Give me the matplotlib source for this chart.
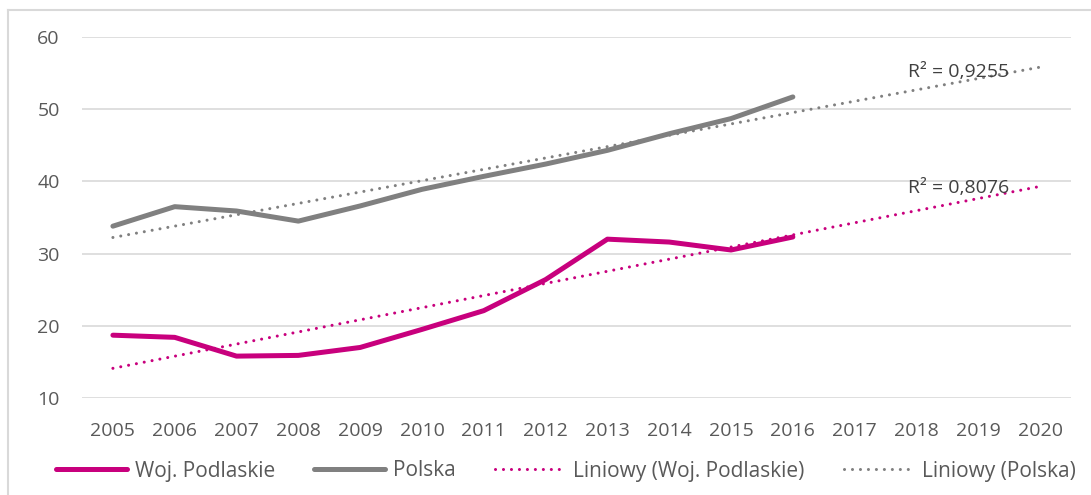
"""
Woj. Podlaskie vs Polska, 2005-2016 with linear trends to 2020
"""

import matplotlib
matplotlib.use('Agg')
import matplotlib.pyplot as plt
import numpy as np
from matplotlib.lines import Line2D

years = [str(y) for y in range(2005, 2021)]
podlaskie = [18.7, 18.4, 15.8, 15.9, 17.0, 19.5, 22.1, 26.4, 32.0, 31.6, 30.5, 32.3]
polska = [33.8, 36.5, 35.9, 34.5, 36.6, 38.9, 40.7, 42.4, 44.3, 46.6, 48.7, 51.7]
r2_podlaskie = 'R² = 0,8076'
r2_polska = 'R² = 0,9255'

MAGENTA = '#c8007d'
GRAY = '#808080'
TEXT = '#595959'
W, H = 1091, 495


def trend(values, n_total):
    """linear fit over measured years, extended to the whole axis"""
    x = np.arange(1, len(values) + 1)
    a, b = np.polyfit(x, values, 1)
    xs = np.arange(1, n_total + 1)
    return xs - 1, a * xs + b


def main() -> None:
    plt.rcParams['font.family'] = ['Open Sans', 'DejaVu Sans']
    fig = plt.figure(figsize=(W / 100, H / 100), dpi=100)
    ax = fig.add_axes([82 / W, 1 - 398 / H, (1071 - 82) / W, (398 - 37) / H])

    x_meas = np.arange(len(podlaskie))
    ax.plot(x_meas, podlaskie, color=MAGENTA, lw=3.6, solid_capstyle='round',
            solid_joinstyle='round', label='Woj. Podlaskie', zorder=3)
    ax.plot(x_meas, polska, color=GRAY, lw=3.6, solid_capstyle='round',
            solid_joinstyle='round', label='Polska', zorder=3)

    tx, ty = trend(podlaskie, len(years))
    ax.plot(tx, ty, color=MAGENTA, lw=2.2, linestyle=(0, (0.01, 2.6)),
            dash_capstyle='round', label='Liniowy (Woj. Podlaskie)', zorder=4)
    tx, ty = trend(polska, len(years))
    ax.plot(tx, ty, color=GRAY, lw=2.2, linestyle=(0, (0.01, 2.6)),
            dash_capstyle='round', label='Liniowy (Polska)', zorder=4)

    ax.text(12.86, 55.2, r2_polska, color='#404040', fontsize=14, va='center', zorder=5)
    ax.text(12.86, 39.1, r2_podlaskie, color='#404040', fontsize=14, va='center', zorder=5)

    ax.set_xlim(-0.5, len(years) - 0.5)
    ax.set_ylim(10, 60)
    ax.set_xticks(range(len(years)))
    ax.set_xticklabels(years)
    ax.set_yticks(range(10, 61, 10))
    ax.grid(axis='y', color='#d9d9d9', lw=1.2)
    ax.set_axisbelow(True)
    for s in ax.spines.values():
        s.set_visible(False)
    ax.tick_params(axis='both', length=0, labelsize=14, labelcolor=TEXT)
    ax.tick_params(axis='y', pad=16)
    ax.tick_params(axis='x', pad=17)

    leg = fig.legend(loc='center', bbox_to_anchor=(0.519, 1 - 471 / H), ncol=4, frameon=False,
                     fontsize=15, handlelength=3.4, handletextpad=0.35, columnspacing=1.9)
    for t in leg.get_texts():
        t.set_color(TEXT)

    # chart area border (only top and left visible in the crop)
    fig.add_artist(Line2D([8 / W, 8 / W], [0, 1 - 10 / H], transform=fig.transFigure,
                          color='#d9d9d9', lw=1.5))
    fig.add_artist(Line2D([8 / W, 1], [1 - 10 / H, 1 - 10 / H], transform=fig.transFigure,
                          color='#d9d9d9', lw=1.5))

    fig.savefig('out.png', dpi=100)


if __name__ == '__main__':
    main()
